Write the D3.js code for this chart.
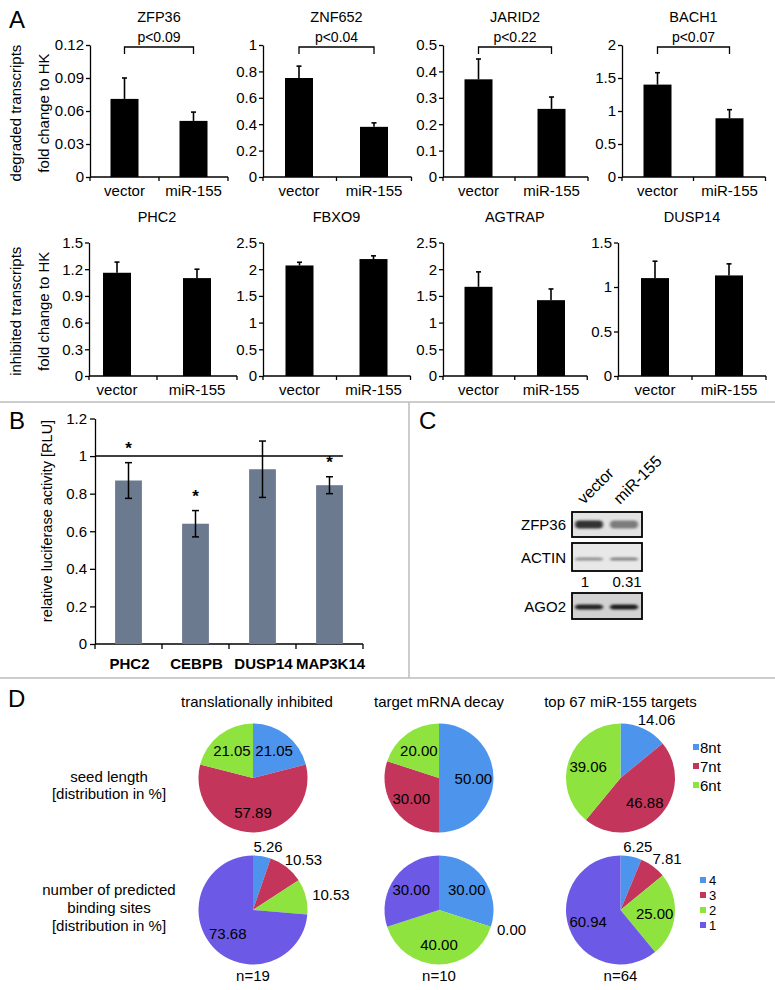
<!DOCTYPE html>
<html><head><meta charset="utf-8">
<script src="https://cdn.jsdelivr.net/npm/d3@7"></script>
<style>
body{margin:0;background:#fff}
svg{display:block}
text{font-family:"Liberation Sans",Arial,sans-serif;fill:#000}
</style>
</head><body>
<svg id="fig" width="775" height="990"></svg>
<script>
// ---------------- DATA ----------------
// Panel A
const groupsA = ["vector", "miR-155"];
const genesDeg = ["ZFP36", "ZNF652", "JARID2", "BACH1"];
const degMeans = [[0.071, 0.051], [0.75, 0.38], [0.37, 0.258], [1.40, 0.89]];
const degErr = [[0.019, 0.008], [0.09, 0.03], [0.077, 0.045], [0.18, 0.13]];
const degTicks = [[0, 0.03, 0.06, 0.09, 0.12], [0, 0.2, 0.4, 0.6, 0.8, 1], [0, 0.1, 0.2, 0.3, 0.4, 0.5], [0, 0.5, 1, 1.5, 2]];
const degP = ["p<0.09", "p<0.04", "p<0.22", "p<0.07"];
const genesInh = ["PHC2", "FBXO9", "AGTRAP", "DUSP14"];
const inhMeans = [[1.16, 1.10], [2.07, 2.19], [1.67, 1.42], [1.10, 1.13]];
const inhErr = [[0.12, 0.10], [0.06, 0.06], [0.28, 0.21], [0.19, 0.13]];
const inhTicks = [[0, 0.3, 0.6, 0.9, 1.2, 1.5], [0, 0.5, 1, 1.5, 2, 2.5], [0, 0.5, 1, 1.5, 2, 2.5], [0, 0.5, 1, 1.5]];
const yTitlesA = [["degraded transcripts", "fold change to HK"], ["inhibited transcripts", "fold change to HK"]];

// Panel B
const lucGenes = ["PHC2", "CEBPB", "DUSP14", "MAP3K14"];
const lucMeans = [0.87, 0.64, 0.93, 0.845];
const lucErr = [0.095, 0.07, 0.15, 0.045];
const lucSig = [true, true, false, true];
const lucTicks = [0, 0.2, 0.4, 0.6, 0.8, 1, 1.2];
const lucRef = 1;
const lucTitle = "relative luciferase activity [RLU]";

// Panel C
const blotLanes = ["vector", "miR-155"];
const blotProteins = ["ZFP36", "ACTIN", "AGO2"];
const blotIntensity = [[0.85, 0.45], [0.35, 0.42], [0.92, 0.95]];
const blotRatio = ["1", "0.31"];

// Panel D
const pieGroups = ["translationally inhibited", "target mRNA decay", "top 67 miR-155 targets"];
const seedCats = ["8nt", "7nt", "6nt"];
const bindCats = ["4", "3", "2", "1"];
const seedPct = [[21.05, 57.89, 21.05], [50.00, 30.00, 20.00], [14.06, 46.88, 39.06]];
const bindPct = [[5.26, 10.53, 10.53, 73.68], [30.00, 0.00, 40.00, 30.00], [6.25, 7.81, 25.00, 60.94]];
const nLabels = ["n=19", "n=10", "n=64"];
const rowLabelsD = [["seed length", "[distribution in %]"], ["number of predicted", "binding sites", "[distribution in %]"]];

// ---------------- LAYOUT / STYLE ----------------
const FONT = '"Liberation Sans", Arial, sans-serif';
const pieColors = ["#4d94ec", "#c3355a", "#8ee33e", "#6c5ae6"];
const svg = d3.select("#fig");
svg.append("rect").attr("width", 775).attr("height", 990).attr("fill", "#fff");

// separators
const sepC = "#bdbdbd";
svg.append("line").attr("x1", 0).attr("x2", 775).attr("y1", 402).attr("y2", 402).attr("stroke", sepC).attr("stroke-width", 1.5);
svg.append("line").attr("x1", 409).attr("x2", 409).attr("y1", 402).attr("y2", 678).attr("stroke", sepC).attr("stroke-width", 1.5);
svg.append("line").attr("x1", 0).attr("x2", 775).attr("y1", 678).attr("y2", 678).attr("stroke", sepC).attr("stroke-width", 1.5);

// panel letters
[["A", 9, 28], ["B", 9, 429], ["C", 419, 429], ["D", 8, 707]].forEach(([t, x, y]) =>
  svg.append("text").attr("x", x).attr("y", y).attr("font-size", 24).text(t));

// ---------------- PANEL A ----------------
const rowsA = [
  {y0: 177, y1: 45, titleY: 22, cells: [{ax: 90, c: [124.5, 193.5]}, {ax: 263, c: [299, 374]}, {ax: 443, c: [478.5, 551.5]}, {ax: 622, c: [657.5, 729.5]}]},
  {y0: 376, y1: 242.5, titleY: 222, cells: [{ax: 89, c: [117, 197]}, {ax: 263, c: [299.5, 373.5]}, {ax: 443, c: [478.5, 551]}, {ax: 618, c: [655, 729]}]}
];

function styleAxis(sel, fs) {
  sel.attr("font-family", FONT).attr("font-size", fs);
  sel.selectAll("path, line").attr("stroke", "#000").attr("stroke-width", 1.3);
  sel.selectAll("text").attr("fill", "#000");
}

function drawSmall(row, lay, gene, means, errs, ticks, pLabel) {
  const g = svg.append("g");
  const y = d3.scaleLinear().domain([0, d3.max(ticks)]).range([row.y0, row.y1]);
  const x = d3.scalePoint().domain(groupsA).range(lay.c);
  const step = lay.c[1] - lay.c[0];
  const bw = 28;
  g.append("g").attr("transform", `translate(${lay.ax},0)`)
    .call(d3.axisLeft(y).tickValues(ticks).tickFormat(d3.format("")).tickSize(4).tickSizeOuter(0).tickPadding(2))
    .call(s => styleAxis(s, 15));
  const end = x(groupsA[1]) + step / 2;
  const bounds = [lay.ax, (x(groupsA[0]) + x(groupsA[1])) / 2, end];
  g.append("line").attr("x1", lay.ax).attr("x2", end).attr("y1", row.y0).attr("y2", row.y0).attr("stroke", "#000").attr("stroke-width", 1.3);
  bounds.forEach(b => g.append("line").attr("x1", b).attr("x2", b).attr("y1", row.y0).attr("y2", row.y0 + 4).attr("stroke", "#000").attr("stroke-width", 1.3));
  groupsA.forEach((k, i) => {
    const cx = x(k);
    g.append("rect").attr("x", cx - bw / 2).attr("y", y(means[i])).attr("width", bw).attr("height", row.y0 - y(means[i])).attr("fill", "#000");
    const top = y(means[i] + errs[i]);
    g.append("line").attr("x1", cx).attr("x2", cx).attr("y1", y(means[i])).attr("y2", top).attr("stroke", "#000").attr("stroke-width", 1.6);
    g.append("line").attr("x1", cx - 2.5).attr("x2", cx + 2.5).attr("y1", top).attr("y2", top).attr("stroke", "#000").attr("stroke-width", 1.6);
    g.append("text").attr("x", cx).attr("y", row.y0 + 19).attr("text-anchor", "middle").attr("font-size", 15).text(k);
  });
  const mid = (x(groupsA[0]) + x(groupsA[1])) / 2;
  g.append("text").attr("x", mid).attr("y", row.titleY).attr("text-anchor", "middle").attr("font-size", 14.5).text(gene);
  if (pLabel) {
    const by = row.y1 + 2;
    g.append("path").attr("d", `M${x(groupsA[0])},${by + 7}V${by}H${x(groupsA[1])}V${by + 7}`)
      .attr("fill", "none").attr("stroke", "#000").attr("stroke-width", 1.3);
    g.append("text").attr("x", mid).attr("y", by - 5).attr("text-anchor", "middle").attr("font-size", 14).text(pLabel);
  }
}

genesDeg.forEach((gene, i) => drawSmall(rowsA[0], rowsA[0].cells[i], gene, degMeans[i], degErr[i], degTicks[i], degP[i]));
genesInh.forEach((gene, i) => drawSmall(rowsA[1], rowsA[1].cells[i], gene, inhMeans[i], inhErr[i], inhTicks[i], null));

rowsA.forEach((row, r) => {
  const cy = (row.y0 + row.y1) / 2 + 2;
  [15, 43].forEach((xx, j) => {
    svg.append("text").attr("transform", `translate(${xx},${cy}) rotate(-90)`)
      .attr("text-anchor", "middle").attr("dominant-baseline", "central").attr("font-size", 15).text(yTitlesA[r][j]);
  });
});

// ---------------- PANEL B ----------------
(function () {
  const g = svg.append("g");
  const y = d3.scaleLinear().domain([0, 1.2]).range([644, 418.5]);
  const x = d3.scaleBand().domain(lucGenes).range([95, 363]).paddingInner(0.6).paddingOuter(0.3);
  const step = x.step();
  g.append("g").attr("transform", "translate(95,0)")
    .call(d3.axisLeft(y).tickValues(lucTicks).tickFormat(d3.format("")).tickSize(5).tickSizeOuter(0).tickPadding(3))
    .call(s => styleAxis(s, 15));
  g.append("line").attr("x1", 95).attr("x2", 363).attr("y1", y(0)).attr("y2", y(0)).attr("stroke", "#000").attr("stroke-width", 1.3);
  const bounds = lucGenes.map(k => x(k) - step * 0.3).concat([363]);
  bounds.forEach(b => g.append("line").attr("x1", b).attr("x2", b).attr("y1", y(0)).attr("y2", y(0) + 5).attr("stroke", "#000").attr("stroke-width", 1.3));
  lucGenes.forEach((k, i) => {
    const bx = x(k), cx = bx + x.bandwidth() / 2;
    g.append("rect").attr("x", bx).attr("y", y(lucMeans[i])).attr("width", x.bandwidth()).attr("height", y(0) - y(lucMeans[i])).attr("fill", "#6b7a8e");
    const t = y(lucMeans[i] + lucErr[i]), b = y(lucMeans[i] - lucErr[i]);
    g.append("line").attr("x1", cx).attr("x2", cx).attr("y1", t).attr("y2", b).attr("stroke", "#000").attr("stroke-width", 1.5);
    [t, b].forEach(yy => g.append("line").attr("x1", cx - 3.5).attr("x2", cx + 3.5).attr("y1", yy).attr("y2", yy).attr("stroke", "#000").attr("stroke-width", 1.5));
    if (lucSig[i]) g.append("text").attr("x", cx).attr("y", t - 9).attr("text-anchor", "middle").attr("font-size", 17).attr("font-weight", "bold").text("*");
    g.append("text").attr("x", cx + 1).attr("y", 669).attr("text-anchor", "middle").attr("font-size", 15).attr("font-weight", "bold").text(k);
  });
  const last = lucGenes[lucGenes.length - 1];
  g.append("line").attr("x1", 95).attr("x2", x(last) + x.bandwidth()).attr("y1", y(lucRef)).attr("y2", y(lucRef)).attr("stroke", "#000").attr("stroke-width", 1.5);
  g.append("text").attr("transform", "translate(47,521) rotate(-90)").attr("text-anchor", "middle").attr("dominant-baseline", "central").attr("font-size", 14.5).text(lucTitle);
})();

// ---------------- PANEL C ----------------
(function () {
  const defs = svg.append("defs");
  defs.append("filter").attr("id", "blur").attr("x", "-30%").attr("y", "-100%").attr("width", "160%").attr("height", "300%")
    .append("feGaussianBlur").attr("stdDeviation", "1.4 1.1");
  const g = svg.append("g");
  const boxX = [572, 642];
  const rowY = [[512, 537], [543, 571], [593, 619]];
  const boxFill = ["#e3e3e3", "#e8e8e8", "#d2d2d2"];
  const bandH = [8, 3, 5];
  const bandOff = [0, 2, 1];
  const lane = d3.scalePoint().domain(blotLanes).range([589, 624]);
  const shade = d3.interpolateRgb("#d0d0d0", "#151515");
  blotProteins.forEach((p, i) => {
    const [y0, y1] = rowY[i];
    const cy = (y0 + y1) / 2 + bandOff[i];
    g.append("rect").attr("x", boxX[0]).attr("y", y0).attr("width", boxX[1] - boxX[0]).attr("height", y1 - y0).attr("fill", boxFill[i]);
    blotLanes.forEach((l, j) => {
      g.append("rect").attr("x", lane(l) - 14).attr("y", cy - bandH[i] / 2).attr("width", 28).attr("height", bandH[i])
        .attr("rx", 4).attr("fill", shade(blotIntensity[i][j])).attr("filter", "url(#blur)");
    });
    g.append("rect").attr("x", boxX[0]).attr("y", y0).attr("width", boxX[1] - boxX[0]).attr("height", y1 - y0)
      .attr("fill", "none").attr("stroke", "#000").attr("stroke-width", 1.8);
    g.append("text").attr("x", 566).attr("y", (y0 + y1) / 2).attr("text-anchor", "end").attr("dominant-baseline", "central").attr("font-size", 15).text(p);
  });
  const ratioX = d3.scalePoint().domain(blotLanes).range([585, 627]);
  blotLanes.forEach((l, j) => {
    g.append("text").attr("x", ratioX(l)).attr("y", 587).attr("text-anchor", "middle").attr("font-size", 15).text(blotRatio[j]);
  });
  const labX = d3.scalePoint().domain(blotLanes).range([584, 620]);
  blotLanes.forEach(l => {
    g.append("text").attr("transform", `translate(${labX(l)},505) rotate(-45)`).attr("font-size", 16).text(l);
  });
})();

// ---------------- PANEL D ----------------
(function () {
  const g = svg.append("g");
  const colX = [253, 439, 620.5];
  const rowCY = [778, 910];
  const R = 54.5;
  const pie = d3.pie().sort(null).value(d => d);
  const arc = d3.arc().innerRadius(0).outerRadius(R);
  pieGroups.forEach((t, i) => g.append("text").attr("x", colX[i] + (i === 0 ? 4 : 0)).attr("y", 707).attr("text-anchor", "middle").attr("font-size", 15).text(t));

  function drawPie(cx, cy, vals) {
    const pg = g.append("g").attr("transform", `translate(${cx},${cy})`);
    const arcs = pie(vals);
    pg.selectAll("path").data(arcs).join("path").attr("d", arc).attr("fill", (d, i) => pieColors[i]);
    arcs.forEach(a => {
      const mid = (a.startAngle + a.endAngle) / 2;
      const s = Math.sin(mid), c = Math.cos(mid);
      const t = pg.append("text").attr("text-anchor", "middle").attr("dominant-baseline", "central").attr("font-size", 15).text(d3.format(".2f")(a.data));
      if (a.data >= 15) {
        t.attr("x", s * R * 0.63).attr("y", -c * R * 0.63);
      } else {
        const w = t.node().getComputedTextLength();
        const r = R + 4;
        t.attr("x", s * r + s * w / 2 + 3).attr("y", -c * r - c * 6);
      }
    });
  }
  seedPct.forEach((v, i) => drawPie(colX[i], rowCY[0], v));
  bindPct.forEach((v, i) => drawPie(colX[i], rowCY[1], v));
  nLabels.forEach((t, i) => g.append("text").attr("x", colX[i]).attr("y", 975).attr("text-anchor", "middle").attr("dominant-baseline", "central").attr("font-size", 15).text(t));

  function legend(cats, x0, y0, dy, tx, fs) {
    cats.forEach((c, i) => {
      g.append("rect").attr("x", x0).attr("y", y0 + i * dy - 3).attr("width", 6).attr("height", 6).attr("fill", pieColors[i]);
      g.append("text").attr("x", tx).attr("y", y0 + i * dy).attr("dominant-baseline", "central").attr("font-size", fs).text(c);
    });
  }
  legend(seedCats, 693, 747, 19, 700, 15);
  legend(bindCats, 700, 880, 15, 709, 13);

  const rlY = [[776, 793], [889, 907, 925]];
  rowLabelsD.forEach((lines, r) => lines.forEach((t, j) =>
    g.append("text").attr("x", 109).attr("y", rlY[r][j]).attr("text-anchor", "middle").attr("dominant-baseline", "central").attr("font-size", 15).text(t)));
})();
</script>
</body></html>
